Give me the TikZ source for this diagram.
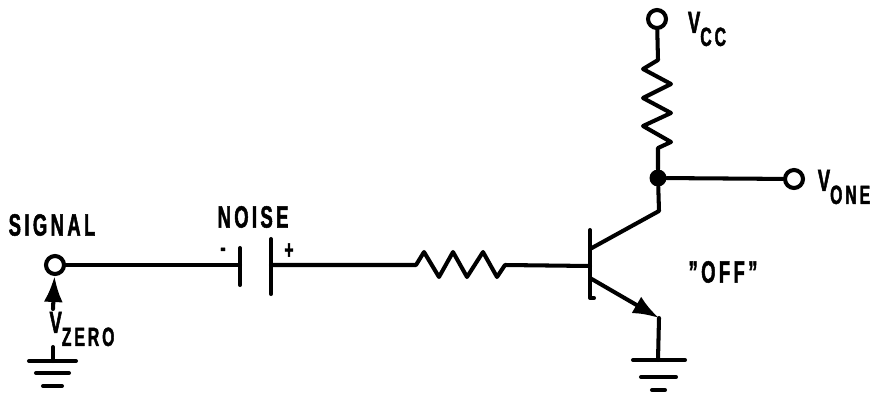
\documentclass[tikz,border=0pt]{standalone}
\usepackage{fontspec}
\setmainfont[LetterSpace=11,FakeStretch=0.6,FakeBold=1.5]{Liberation Sans Bold}
\usetikzlibrary{arrows.meta}
\tikzset{wire/.style={line width=2.3pt,line cap=round,line join=round},
  terminal/.style={circle,draw,line width=2.3pt,fill=white,inner sep=0pt,minimum size=0.36cm},
  junction/.style={circle,fill=black,inner sep=0pt,minimum size=0.34cm},
  lbl/.style={inner sep=0pt,font=\fontsize{17.5}{18}\selectfont},
  sign/.style={inner sep=0pt,font=\fontsize{15}{15}\selectfont},
  bigtip/.style={-{Latex[length=0.52cm,width=0.38cm]}}}
\newcommand{\subbed}[2]{#1\raisebox{-0.8ex}{\fontsize{15}{16}\selectfont #2}}

\begin{document}
\begin{tikzpicture}[x=0.02cm,y=-0.02cm]
\useasboundingbox (0,0) rectangle (875,392);

% terminals and junctions
\node[terminal] (signal) at (55,265) {};
\node[terminal] (vcc) at (657,19) {};
\node[terminal] (vone) at (794,179) {};
\node[junction] (out) at (658,178) {};

% capacitor plates
\coordinate (capl) at (240,265);
\coordinate (capr) at (271,265);
\draw[wire] (240,248) -- (240,285);
\draw[wire] (271,239) -- (271,294);
\draw[wire] (signal) -- (capl);

% base resistor
\coordinate (base) at (590,266);
\draw[wire] (capr) -- (416,265) -- (424,252) -- (439,277) -- (453,252) -- (467,277) -- (483,252) -- (497,277) -- (505,265) -- (base);

% transistor
\coordinate (coll) at (659,211);
\coordinate (emit) at (659,318);
\draw[wire] (590,230) -- (590,298) -- (594,298);
\draw[wire] (590,249) -- (coll) -- (out);
\draw[wire,bigtip] (590,278) -- (emit);

% collector resistor
\draw[wire] (vcc) -- (658,60) -- (643,69) -- (671,84) -- (643,98) -- (671,113) -- (643,126) -- (671,142) -- (658,148) -- (out);
\draw[wire] (out) -- (vone);

% grounds
\coordinate (gndr) at (658,360);
\draw[wire] (emit) -- (gndr);
\draw[wire] (633,360) -- (685,360);
\draw[wire] (641,377) -- (676,377);
\draw[wire] (652,390) -- (665,390);
\coordinate (gndl) at (53,361);
\coordinate (stem) at (53,347);
\draw[wire] (stem) -- (gndl);
\draw[wire] (29,361) -- (76,361);
\draw[wire] (36,373) -- (69,373);
\draw[wire] (43,386) -- (62,386);

% voltage arrow
\coordinate (vzarrow) at (53,309);
\draw[wire,bigtip] (vzarrow) -- (signal);

% labels
\node[lbl] (lblsignal) at (52,225) {SIGNAL};
\node[lbl] (lblnoise) at (253,217) {NOISE};
\node[sign] (lblminus) at (223,252) {-};
\node[sign] (lblplus) at (289,251) {+};
\node[lbl] (lblzero) at (82,329) {\subbed{V}{ZERO}};
\node[lbl] (lblcc) at (707,29) {\subbed{V}{CC}};
\node[lbl] (lblone) at (844,187) {\subbed{V}{ONE}};
\node[lbl] (lbloff) at (723,272) {"OFF"};
\end{tikzpicture}
\end{document}
